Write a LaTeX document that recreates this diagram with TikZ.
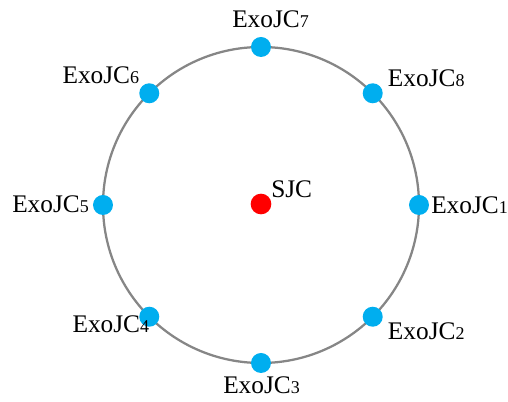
\documentclass[tikz,border=0pt]{standalone}
\usepackage{fontspec}
\setmainfont{Liberation Serif}
\usepackage{xcolor}
\definecolor{exoblue}{HTML}{00AEEF}
\definecolor{ringgray}{HTML}{868686}
\definecolor{sjcred}{HTML}{FF0000}
\newcommand{\jcsub}[1]{{\fontsize{13.5}{14}\selectfont #1}}

\begin{document}
\begin{tikzpicture}[x=0.75pt, y=0.75pt,
    exo/.style={circle, fill=exoblue, inner sep=0pt, minimum size=15pt},
    exolab/.style={anchor=base west, inner sep=0pt, font=\fontsize{19}{20}\selectfont}]
  \useasboundingbox (-261,-197) rectangle (247,205);
  \draw[ringgray, line width=1.7pt] (0,0) circle (118.5pt);
  \node[circle, fill=sjcred, inner sep=0pt, minimum size=15.5pt] (sjc) at (0,1) {};
  \node[exolab] (sjclab) at ([shift={(10,6)}]sjc.center) {SJC};
  \foreach \i/\ang/\dx/\dy in {1/0/12/-9, 2/-45/15/-23, 3/-90/-38/-31, 4/-135/-77/-16,
                               5/180/-91/-8, 6/135/-87/10, 7/90/-29/19, 8/45/15/7}
    { \node[exo] (c\i) at (\ang:158) {};
      \node[exolab] (l\i) at ([shift={(\dx,\dy)}]c\i.center) {ExoJC\jcsub{\i}}; }
\end{tikzpicture}
\end{document}
